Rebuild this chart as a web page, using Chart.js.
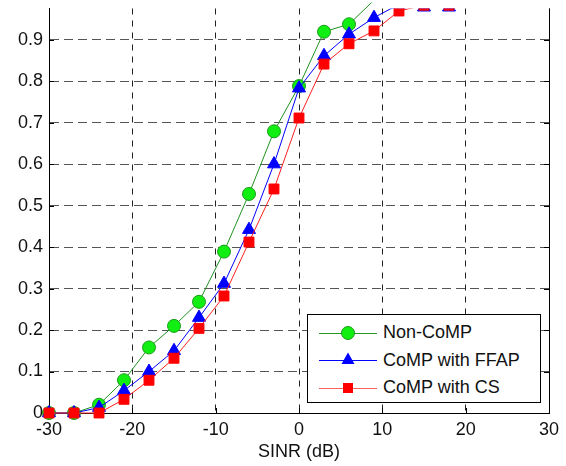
<!DOCTYPE html>
<html>
<head>
<meta charset="utf-8">
<script src="https://cdn.jsdelivr.net/npm/chart.js@4"></script>
<style>
  html, body { margin: 0; padding: 0; background: #fff; }
  #wrap { position: relative; width: 566px; height: 466px; }
  #legend {
    position: absolute; left: 307px; top: 314px; width: 234px; height: 89px;
    border: 1px solid #000; background: #fff; box-sizing: border-box;
    font-family: "Liberation Sans", Arial, sans-serif; font-size: 18px; color: #111;
    padding-top: 4px;
  }
  .row { display: flex; align-items: center; height: 27.5px; }
  .row svg { margin-left: 11px; margin-right: 6px; }
</style>
</head>
<body>
<div id="wrap">
  <canvas id="chart" width="566" height="466"></canvas>
  <div id="legend"></div>
</div>
<script>
// x values (dB) and CDF curves
const sinrDb   = [-30, -27, -24, -21, -18, -15, -12, -9, -6, -3, 0, 3, 6, 9, 12, 15, 18];
const nonComp  = [0, 0, 0.02, 0.079, 0.158, 0.21, 0.268, 0.389, 0.528, 0.679, 0.788, 0.919, 0.937, 0.995, 1.0, 1.0, 1.0];
const compFfap = [0, 0, 0.013, 0.054, 0.10, 0.15, 0.23, 0.312, 0.442, 0.60, 0.783, 0.861, 0.913, 0.953, 0.985, 0.978, 0.978];
const compCs   = [0, 0, 0, 0.033, 0.079, 0.132, 0.204, 0.282, 0.412, 0.54, 0.711, 0.841, 0.89, 0.921, 0.969, 0.983, 0.983];

const seriesNames = ['Non-CoMP', 'CoMP with FFAP', 'CoMP with CS'];
const xTicks = [-30, -20, -10, 0, 10, 20, 30];

const FONT = '"Liberation Sans", Arial, sans-serif';

function toPoints(ys) {
    return sinrDb.map((x, i) => ({ x: x, y: ys[i] }));
}

// right frame line + MATLAB style inward ticks
const frameTicks = {
    id: 'frameTicks',
    beforeDatasetsDraw(chart) {
        const { ctx, chartArea: a, scales } = chart;
        ctx.save();
        ctx.strokeStyle = '#000';
        ctx.lineWidth = 1;
        ctx.beginPath();
        ctx.moveTo(a.right + 0.5, a.top);
        ctx.lineTo(a.right + 0.5, a.bottom);
        scales.y.ticks.forEach(t => {
            const py = Math.round(scales.y.getPixelForValue(t.value)) + 0.5;
            ctx.moveTo(a.left, py); ctx.lineTo(a.left + 5, py);
            ctx.moveTo(a.right, py); ctx.lineTo(a.right - 5, py);
        });
        scales.x.ticks.forEach(t => {
            const px = Math.round(scales.x.getPixelForValue(t.value)) + 0.5;
            ctx.moveTo(px, a.bottom); ctx.lineTo(px, a.bottom - 5);
        });
        ctx.stroke();
        ctx.restore();
    }
};

const ctx = document.getElementById('chart').getContext('2d');
const cdfChart = new Chart(ctx, {
    type: 'line',
    data: {
        datasets: [
            {
                label: seriesNames[0],
                data: toPoints(nonComp),
                borderColor: '#1f921f',
                borderWidth: 1,
                pointStyle: 'circle',
                pointRadius: 6.5,
                pointBackgroundColor: '#11ee11',
                pointBorderColor: '#1a9a1a',
                pointBorderWidth: 1,
                clip: { left: 12, right: 12, top: 6, bottom: 12 },
                order: 3
            },
            {
                label: seriesNames[1],
                data: toPoints(compFfap),
                borderColor: '#0000ff',
                borderWidth: 1,
                pointStyle: 'triangle',
                pointRadius: 7.5,
                pointBackgroundColor: '#0000ff',
                pointBorderColor: '#0000ff',
                pointBorderWidth: 1,
                clip: { left: 12, right: 12, top: 0, bottom: 12 },
                order: 2
            },
            {
                label: seriesNames[2],
                data: toPoints(compCs),
                borderColor: '#ff2020',
                borderWidth: 1,
                pointStyle: 'rect',
                pointRadius: 7,
                pointBackgroundColor: '#ff0000',
                pointBorderColor: '#ff0000',
                pointBorderWidth: 1,
                clip: { left: 12, right: 12, top: 0, bottom: 12 },
                order: 1
            }
        ]
    },
    options: {
        responsive: false,
        animation: false,
        layout: { padding: { top: 8, right: 17, left: 0, bottom: 0 } },
        plugins: {
            legend: { display: false },
            tooltip: { enabled: false }
        },
        scales: {
            x: {
                type: 'linear',
                min: -30,
                max: 30,
                afterFit: s => { s.height = 53; s.paddingLeft = 0; s.paddingRight = 0; },
                afterBuildTicks: s => { s.ticks = xTicks.map(v => ({ value: v })); },
                ticks: {
                    padding: 6,
                    color: '#111',
                    font: { family: FONT, size: 18 },
                    maxRotation: 0
                },
                grid: {
                    color: '#222',
                    lineWidth: 1,
                    drawTicks: false
                },
                border: { display: true, color: '#000', width: 1, dash: [6, 6] },
                title: {
                    display: true,
                    text: 'SINR (dB)',
                    color: '#111',
                    font: { family: FONT, size: 18 },
                    padding: { top: 0, bottom: 3 }
                }
            },
            y: {
                min: 0,
                max: 0.975,
                afterFit: s => { s.width = 49; s.paddingTop = 0; s.paddingBottom = 0; },
                ticks: {
                    stepSize: 0.1,
                    includeBounds: false,
                    padding: 6,
                    color: '#111',
                    font: { family: FONT, size: 18 },
                    callback: v => String(Math.round(v * 10) / 10)
                },
                grid: {
                    color: '#555',
                    lineWidth: 1,
                    drawTicks: false
                },
                border: { display: true, color: '#000', width: 1, dash: [9, 5] }
            }
        }
    },
    plugins: [frameTicks]
});

// legend inside the plot, drawn as html
const legendMarks = [
    { line: '#229a22', mark: '<circle cx="29" cy="10" r="6.5" fill="#11ee11" stroke="#1a9a1a" stroke-width="1"/>' },
    { line: '#0000ff', mark: '<polygon points="29,2.5 35.5,14 22.5,14" fill="#0000ff"/>' },
    { line: '#ff6060', mark: '<rect x="24" y="5" width="10" height="10" fill="#ff0000"/>' }
];
const legendBox = document.getElementById('legend');
seriesNames.forEach((name, i) => {
    const row = document.createElement('div');
    row.className = 'row';
    row.innerHTML =
        '<svg width="58" height="20"><line x1="0" y1="10.5" x2="58" y2="10.5" stroke="' +
        legendMarks[i].line + '" stroke-width="1.2"/>' + legendMarks[i].mark + '</svg>' +
        '<span>' + name + '</span>';
    legendBox.appendChild(row);
});
</script>
</body>
</html>
